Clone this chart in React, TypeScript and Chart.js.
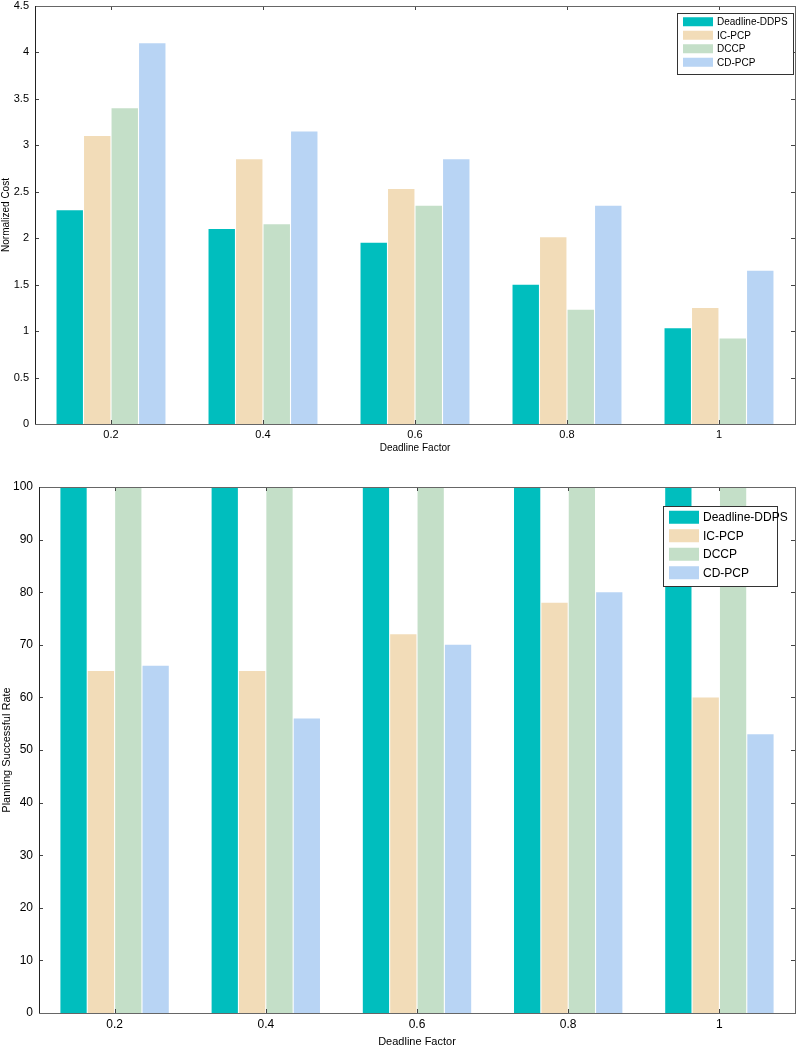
import React, { useEffect, useRef } from "react";
import { Chart, registerables } from "chart.js";

Chart.register(...registerables);

const categories = ["0.2", "0.4", "0.6", "0.8", "1"];
const seriesNames = ["Deadline-DDPS", "IC-PCP", "DCCP", "CD-PCP"];
const seriesColors = ["#00BEBE", "#F2DCB8", "#C4DFC8", "#B8D4F4"];

const costDDPS = [2.3, 2.1, 1.95, 1.5, 1.03];
const costICPCP = [3.1, 2.85, 2.53, 2.01, 1.25];
const costDCCP = [3.4, 2.15, 2.35, 1.23, 0.92];
const costCDPCP = [4.1, 3.15, 2.85, 2.35, 1.65];

const rateDDPS = [100, 100, 100, 100, 100];
const rateICPCP = [65, 65, 72, 78, 60];
const rateDCCP = [100, 100, 100, 100, 100];
const rateCDPCP = [66, 56, 70, 80, 53];

const FONT = "'Liberation Sans', Arial, sans-serif";

type LegendCfg = { x: number; y: number; w: number; h: number; rowH: number; sw: number; sh: number; font: number };

function makeFramePlugin(legend: LegendCfg) {
  return {
    id: "frameLegend",
    afterDraw(chart: any) {
      const ctx = chart.ctx;
      const a = chart.chartArea;
      ctx.save();
      ctx.strokeStyle = "#444";
      ctx.lineWidth = 1;
      const ys = chart.scales.y;
      ys.ticks.forEach((t: any) => {
        const py = Math.round(ys.getPixelForValue(t.value)) + 0.5;
        ctx.beginPath();
        ctx.moveTo(a.left, py);
        ctx.lineTo(a.left + 4, py);
        ctx.moveTo(a.right, py);
        ctx.lineTo(a.right - 4, py);
        ctx.stroke();
      });
      const xs = chart.scales.x;
      xs.ticks.forEach((t: any, i: number) => {
        const px = Math.round(xs.getPixelForTick(i)) + 0.5;
        ctx.beginPath();
        ctx.moveTo(px, a.top);
        ctx.lineTo(px, a.top + 4);
        ctx.moveTo(px, a.bottom);
        ctx.lineTo(px, a.bottom - 4);
        ctx.stroke();
      });
      ctx.strokeStyle = "#666";
      ctx.strokeRect(Math.round(a.left) + 0.5, Math.round(a.top) + 0.5, Math.round(a.right - a.left), Math.round(a.bottom - a.top));
      ctx.strokeStyle = "#222";
      ctx.beginPath();
      ctx.moveTo(Math.round(a.left) + 0.5, a.top);
      ctx.lineTo(Math.round(a.left) + 0.5, a.bottom);
      ctx.stroke();
      ctx.fillStyle = "#fff";
      ctx.fillRect(legend.x, legend.y, legend.w, legend.h);
      ctx.strokeStyle = "#333";
      ctx.strokeRect(legend.x + 0.5, legend.y + 0.5, legend.w, legend.h);
      ctx.font = `${legend.font}px ${FONT}`;
      ctx.textBaseline = "middle";
      ctx.textAlign = "left";
      chart.data.datasets.forEach((ds: any, i: number) => {
        const cy = legend.y + legend.rowH * (i + 0.5) + 2;
        ctx.fillStyle = ds.backgroundColor;
        ctx.fillRect(legend.x + 6, cy - legend.sh / 2, legend.sw, legend.sh);
        ctx.fillStyle = "#000";
        ctx.fillText(ds.label, legend.x + legend.sw + 10, cy + 0.5);
      });
      ctx.restore();
    },
  };
}

function makeConfig(
  values: number[][],
  yTitle: string,
  yMax: number,
  yStep: number,
  yWidth: number,
  xHeight: number,
  padTop: number,
  padBottom: number,
  legend: LegendCfg,
  tickFont: number,
  titleFont: number
): any {
  return {
    type: "bar",
    data: {
      labels: categories,
      datasets: values.map((v, i) => ({
        label: seriesNames[i],
        data: v,
        backgroundColor: seriesColors[i],
        borderWidth: 0,
        barPercentage: 0.96,
        categoryPercentage: 0.724,
      })),
    },
    options: {
      responsive: false,
      animation: false,
      layout: { padding: { top: padTop, right: 5, left: 0, bottom: padBottom } },
      plugins: { legend: { display: false }, tooltip: { enabled: false } },
      scales: {
        x: {
          grid: { display: false, drawTicks: false },
          border: { display: false },
          ticks: { color: "#000", font: { family: FONT, size: tickFont }, padding: 4, maxRotation: 0 },
          title: { display: true, text: "Deadline Factor", color: "#000", font: { family: FONT, size: titleFont }, padding: { top: 0, bottom: 0 } },
          afterFit: (s: any) => {
            s.height = xHeight;
            s.paddingLeft = 0;
            s.paddingRight = 0;
          },
        },
        y: {
          min: 0,
          max: yMax,
          grid: { display: false, drawTicks: false },
          border: { display: false },
          ticks: {
            stepSize: yStep,
            color: "#000",
            padding: 6,
            font: { family: FONT, size: tickFont },
            callback: (v: any) => String(Math.round(Number(v) * 100) / 100),
          },
          title: { display: true, text: yTitle, color: "#000", font: { family: FONT, size: titleFont }, padding: { top: 0, bottom: 0 } },
          afterFit: (s: any) => {
            s.width = yWidth;
            s.paddingTop = 0;
            s.paddingBottom = 0;
          },
        },
      },
    },
    plugins: [makeFramePlugin(legend)],
  };
}

export default function App() {
  const topRef = useRef<HTMLCanvasElement>(null);
  const botRef = useRef<HTMLCanvasElement>(null);

  useEffect(() => {
    const c1 = new Chart(
      topRef.current!,
      makeConfig(
        [costDDPS, costICPCP, costDCCP, costCDPCP],
        "Normalized Cost",
        4.5,
        0.5,
        35,
        30,
        6,
        11,
        { x: 677, y: 13, w: 116, h: 61, rowH: 13.5, sw: 30, sh: 9, font: 10 },
        11,
        10
      )
    );
    const c2 = new Chart(
      botRef.current!,
      makeConfig(
        [rateDDPS, rateICPCP, rateDCCP, rateCDPCP],
        "Planning Successful Rate",
        100,
        10,
        39,
        36,
        22,
        0,
        { x: 663, y: 41, w: 114, h: 80, rowH: 18.5, sw: 30, sh: 13, font: 12 },
        12,
        11
      )
    );
    return () => {
      c1.destroy();
      c2.destroy();
    };
  }, []);

  return (
    <div style={{ position: "absolute", left: 0, top: 0, width: 800, height: 1049, background: "#fff" }}>
      <canvas ref={topRef} width={800} height={465} style={{ position: "absolute", left: 0, top: 0, width: 800, height: 465 }} />
      <canvas ref={botRef} width={800} height={584} style={{ position: "absolute", left: 0, top: 465, width: 800, height: 584 }} />
    </div>
  );
}
